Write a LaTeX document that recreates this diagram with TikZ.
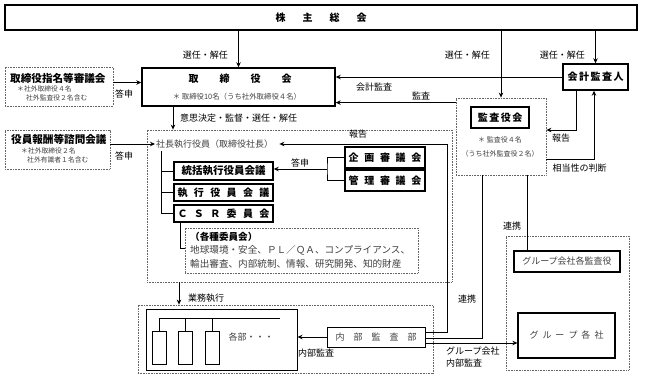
\documentclass[tikz,border=0pt]{standalone}
\usepackage{fontspec}
\newfontfamily\jp{Noto Sans CJK JP}
\usetikzlibrary{arrows.meta,positioning,calc}

\begin{document}
\begin{tikzpicture}[x=1pt, y=-1pt,
  ttl/.style={inner sep=0pt, font=\jp\bfseries\fontsize{10}{12}\selectfont},
  hbox/.style={ttl, draw, line width=1.4pt},
  tbox/.style={draw, line width=1pt, inner sep=0pt, text=black!75, font=\jp\fontsize{9}{11}\selectfont},
  dbox/.style={draw=black!60, line width=0.8pt, dash pattern=on 0.8pt off 0.8pt, inner sep=0pt},
  lbl/.style={inner sep=0pt, font=\jp\fontsize{9}{11}\selectfont},
  note/.style={inner sep=0pt, text=black!75, font=\jp\fontsize{6.8}{8}\selectfont},
  desc/.style={inner sep=0pt, text=black!75, font=\jp\fontsize{9}{13.5}\selectfont},
  arr/.style={-{Stealth[length=5pt,width=4.5pt]}, line width=0.9pt},
  ln/.style={line width=0.9pt}
]
  \useasboundingbox (0,0) rectangle (648,378);

  % top
  \node[hbox, line width=1.6pt, minimum width=632, minimum height=25] (gms) at (321,17.5)
    {株\hspace{17pt}主\hspace{17pt}総\hspace{17pt}会};

  % board
  \node[hbox, minimum width=193, minimum height=38] (bod) at (238.5,87) {};
  \node[ttl] (bodt) at (240,79) {取\hspace{21pt}締\hspace{21pt}役\hspace{21pt}会};
  \node[note, font=\jp\fontsize{7.4}{9}\selectfont] (bodn) at (237,97) {＊ 取締役10名（うち社外取締役４名）};

  \node[dbox, minimum width=108, minimum height=39] (nomi) at (59,86.5) {};
  \node[ttl, anchor=west, font=\jp\bfseries\fontsize{10.6}{12}\selectfont] (nomit) at (10,78) {取締役指名等審議会};
  \node[note, anchor=west] (nomin1) at (17,89) {＊社外取締役４名};
  \node[note, anchor=west] (nomin2) at (26,97.5) {社外監査役２名含む};

  \node[dbox, minimum width=105, minimum height=39] (remu) at (57.5,149.5) {};
  \node[ttl, anchor=west, font=\jp\bfseries\fontsize{10.6}{12}\selectfont] (remut) at (11,139) {役員報酬等諮問会議};
  \node[note, anchor=west] (remun1) at (21,151) {＊社外取締役２名};
  \node[note, anchor=west] (remun2) at (27,159.5) {社外有識者１名含む};

  % auditors
  \node[hbox, minimum width=65, minimum height=26] (auditor) at (595.5,77)
    {会\hspace{1.5pt}計\hspace{1.5pt}監\hspace{1.5pt}査\hspace{1.5pt}人};
  \node[dbox, minimum width=90, minimum height=77] (kanout) at (501,136.5) {};
  \node[hbox, minimum width=58, minimum height=21] (kansa) at (500,117.5)
    {監\hspace{1.5pt}査\hspace{1.5pt}役\hspace{1.5pt}会};
  \node[note, font=\jp\fontsize{7}{9}\selectfont] (kansan1) at (500,140) {＊ 監査役４名};
  \node[note, font=\jp\fontsize{7}{9}\selectfont] (kansan2) at (500,154) {（うち社外監査役２名）};

  % execution
  \node[dbox, minimum width=305, minimum height=152] (execbox) at (299.5,206) {};
  \node[desc, anchor=west] (pres) at (156,144) {社長執行役員（取締役社長）};
  \node[hbox, font=\jp\bfseries\fontsize{10.5}{12}\selectfont, minimum width=99, minimum height=18] (sokatsu) at (223.5,171) {統括執行役員会議};
  \node[hbox, minimum width=99, minimum height=17] (shikko) at (223.5,192.5)
    {執\hspace{6.4pt}行\hspace{6.4pt}役\hspace{6.4pt}員\hspace{6.4pt}会\hspace{6.4pt}議};
  \node[hbox, minimum width=99, minimum height=17] (csr) at (223.5,213.5)
    {Ｃ\hspace{6.4pt}Ｓ\hspace{6.4pt}Ｒ\hspace{6.4pt}委\hspace{6.4pt}員\hspace{6.4pt}会};
  \node[hbox, minimum width=80, minimum height=21] (kikaku) at (385,157.5)
    {企\hspace{5.7pt}画\hspace{5.7pt}審\hspace{5.7pt}議\hspace{5.7pt}会};
  \node[hbox, minimum width=80, minimum height=21] (kanri) at (385,180.5)
    {管\hspace{5.7pt}理\hspace{5.7pt}審\hspace{5.7pt}議\hspace{5.7pt}会};
  \node[dbox, minimum width=233, minimum height=45] (iinkai) at (301.5,250.5) {};
  \node[desc, anchor=west, align=left, font=\jp\fontsize{9.6}{13.5}\selectfont] (iinkait) at (190,250)
    {{\bfseries\color{black}（各種委員会）}\\地球環境・安全、ＰＬ／ＱＡ、コンプライアンス、\\輸出審査、内部統制、情報、研究開発、知的財産};

  % departments
  \node[dbox, minimum width=295, minimum height=68] (gyomu) at (285.5,339) {};
  \node[tbox, minimum width=151, minimum height=61] (bumon) at (221.5,339.5) {};
  \node[tbox, minimum width=14, minimum height=33] (d1) at (159,347.5) {};
  \node[tbox, minimum width=14, minimum height=33] (d2) at (185.5,347.5) {};
  \node[tbox, minimum width=14, minimum height=33] (d3) at (212.5,347.5) {};
  \node[desc] (kakubu) at (251,337) {各部・・・};
  \node[tbox, minimum width=98, minimum height=20] (naibu) at (376,337)
    {内\hspace{9pt}部\hspace{9pt}監\hspace{9pt}査\hspace{9pt}部};

  % group
  \node[dbox, minimum width=123, minimum height=134] (grpout) at (567.5,303) {};
  \node[tbox, line width=1.2pt, minimum width=106, minimum height=21] (grpkan) at (567,261.5) {グループ会社各監査役};
  \node[tbox, line width=1.2pt, minimum width=97, minimum height=45] (grp) at (566.5,335.5)
    {グ\hspace{4pt}ル\hspace{4pt}ー\hspace{4pt}プ\hspace{4pt}各\hspace{4pt}社};

  % connectors
  \draw[arr] (gms.south -| bod.north) -- (bod.north);
  \draw[arr] (gms.south -| kanout.north) -- (kanout.north);
  \draw[arr] (gms.south -| auditor.north) -- (auditor.north);
  \node[lbl, anchor=east] (sel1) at (228,55) {選任・解任};
  \node[lbl, anchor=east] (sel2) at (490,55) {選任・解任};
  \node[lbl, anchor=east] (sel3) at (585,55) {選任・解任};

  \coordinate (nomo) at ([yshift=4pt]nomi.east);
  \draw[arr] (nomo) -- (nomo -| bod.west);
  \node[lbl] (toshin1) at (124,94) {答申};

  \draw[arr] (auditor.west) -- (auditor.west -| bod.east);
  \node[lbl] (kaikei) at (374,87) {会計監査};
  \coordinate (kaudit) at ([yshift=-5pt]kanout.north west);
  \draw[arr] (kaudit) -- (kaudit -| bod.east);
  \node[lbl] (kansal) at (421,96) {監査};

  \coordinate (rep1) at ([xshift=-19.5pt]auditor.south);
  \coordinate (rep1e) at ([yshift=6.5pt]kanout.east);
  \draw[arr] (rep1) |- (rep1e);
  \node[lbl] (hokoku2) at (561,138) {報告};
  \coordinate (adq) at ([yshift=-22.5pt]kanout.east);
  \draw[arr] (adq) -| ([xshift=-1.5pt]auditor.south);
  \node[lbl] (soto) at (579.5,168) {相当性の判断};

  \coordinate (dec) at ([xshift=-65.5pt]bod.south);
  \draw[arr] (dec) -- (dec |- execbox.north);
  \node[lbl, anchor=west] (ishi) at (180,118) {意思決定・監督・選任・解任};

  \draw[arr] (remu.east |- pres.west) -- ([xshift=-1pt]pres.west);
  \node[lbl] (toshin2) at (124,156) {答申};

  \coordinate (trunk) at ([xshift=5pt,yshift=-3pt]pres.south west);
  \draw[ln] (trunk) |- (csr.west);
  \draw[ln] (trunk |- sokatsu.west) -- (sokatsu.west);
  \draw[ln] (trunk |- shikko.west) -- (shikko.west);

  \coordinate (brk) at (327,169);
  \draw[ln] (kikaku.west) -| (brk) |- (kanri.west);
  \draw[arr] (brk) -- (brk -| sokatsu.east);
  \node[lbl] (toshin3) at (300,163) {答申};

  \coordinate (csrl) at ([xshift=-43.5pt]csr.south);
  \draw[ln] (csrl) |- ([yshift=2.5pt]iinkai.west);

  \coordinate (ops) at ([xshift=-120.5pt]execbox.south);
  \draw[arr] (ops) -- (ops |- gyomu.north);
  \node[lbl, anchor=west] (gyomul) at (188,298) {業務執行};

  \coordinate (bus) at (280,318);
  \draw[ln] (d1.north) |- (bus);
  \draw[ln] (d2.north) -- (d2.north |- bus);
  \draw[ln] (d3.north) -- (d3.north |- bus);

  \draw[arr] (naibu.west) -- (naibu.west -| bumon.east);
  \node[lbl, anchor=west] (naibul) at (298,353) {内部監査};

  \coordinate (rep2) at ([yshift=5pt]naibu.east);
  \draw[arr] (rep2) -- ++(22,0) |- ([xshift=6pt]pres.east);
  \node[lbl] (hokoku1) at (358,134) {報告};

  \coordinate (liai) at ([yshift=-1pt]naibu.east);
  \draw[ln] (liai) -| ([xshift=-19pt]kanout.south);
  \node[lbl] (renkei2) at (467,299) {連携};

  \coordinate (gaud) at ([yshift=-6pt]naibu.east);
  \draw[arr] (gaud) -- (gaud -| grp.west);
  \node[lbl, anchor=north west, align=left, font=\jp\fontsize{9}{12}\selectfont] (grpl) at (446,347) {グループ会社\\内部監査};

  \coordinate (liai2) at ([xshift=26pt]kanout.south);
  \draw[ln] (liai2) -- (liai2 |- grpkan.north);
  \node[lbl] (renkei1) at (512,226) {連携};
\end{tikzpicture}
\end{document}
